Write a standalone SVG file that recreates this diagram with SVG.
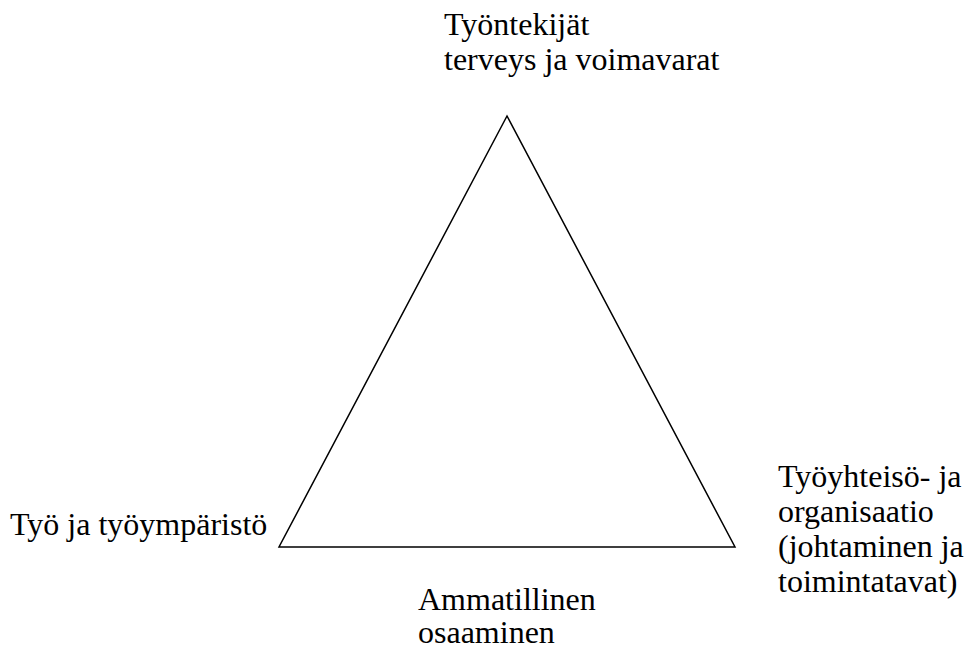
<svg xmlns="http://www.w3.org/2000/svg" width="966" height="649" viewBox="0 0 966 649">
<style>
text{font-family:"Liberation Serif","Times New Roman",serif;font-size:32px;fill:#000}
.tri{fill:none;stroke:#000;stroke-width:1.5}
</style>
<rect width="966" height="649" fill="#fff"/>
<g id="connectors">
<polygon class="tri" points="507,116 279,547 735,547"/>
</g>
<g id="top">
<text x="444" y="35">Työntekijät</text>
<text x="444" y="70">terveys ja voimavarat</text>
</g>
<g id="left">
<text x="10" y="535">Työ ja työympäristö</text>
</g>
<g id="right">
<text x="778" y="487">Työyhteisö- ja</text>
<text x="778" y="522">organisaatio</text>
<text x="778" y="557">(johtaminen ja</text>
<text x="778" y="592">toimintatavat)</text>
</g>
<g id="bottom">
<text x="418" y="610">Ammatillinen</text>
<text x="418" y="643">osaaminen</text>
</g>
</svg>
